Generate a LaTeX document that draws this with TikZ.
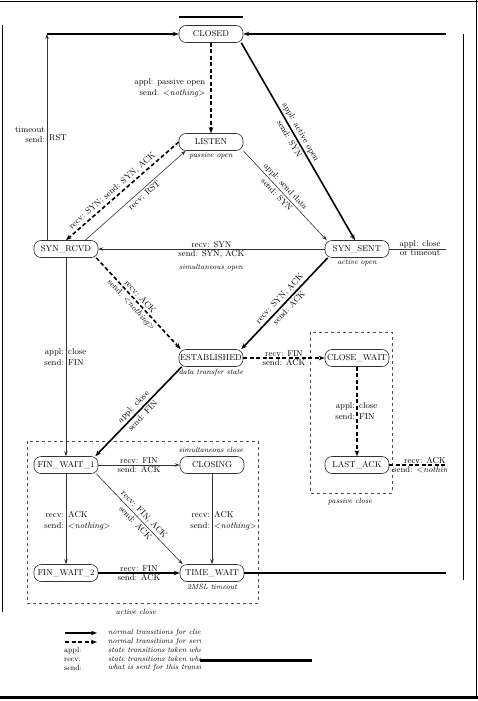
\documentclass[tikz,border=0pt]{standalone}
\usetikzlibrary{arrows.meta}
\newcommand\nthg{\textless\textit{nothing}\textgreater}
\begin{document}
\begin{tikzpicture}[x=1pt,y=-1pt,
  st/.style={draw=black!80, line width=0.6pt, rounded corners=7pt, minimum width=64pt, minimum height=17pt, inner sep=1pt, font=\fontsize{8.5}{10}\selectfont},
  cli/.style={line width=1.6pt, -{Stealth[length=6pt,width=4.5pt]}},
  srv/.style={line width=1.6pt, dash pattern=on 4pt off 2.5pt, -{Stealth[length=6pt,width=4.5pt]}},
  tr/.style={line width=0.6pt, draw=black!80, -{Stealth[length=5pt,width=3.5pt]}},
  lab/.style={font=\fontsize{8.5}{10.5}\selectfont, inner sep=1pt},
  slab/.style={font=\fontsize{8.5}{10.5}\selectfont, inner sep=2pt, sloped},
  note/.style={font=\fontsize{7.5}{9}\selectfont\itshape, inner sep=1pt},
  dbox/.style={draw=black!70, line width=0.6pt, dash pattern=on 3pt off 3pt},
  frame/.style={line width=1.5pt},
]
\useasboundingbox (0,0) rectangle (478,701);
% frame
\draw[frame] (0,1.5) -- (478,1.5);
\draw[frame] (476.5,0) -- (476.5,698);
\draw[line width=3pt] (0,697.5) -- (478,697.5);
\draw[line width=1.2pt] (2.5,25) -- (2.5,612);
\draw[line width=0.9pt] (463,34) -- (463,580);
\draw[line width=2pt] (179,17) -- (243,17);

% states
\node[st] (closed) at (211,34) {CLOSED};
\node[st] (listen) at (211,142) {LISTEN};
\node[st] (synrcvd) at (66,249) {SYN\_RCVD};
\node[st] (synsent) at (357,249) {SYN\_SENT};
\node[st] (estab) at (211,358) {ESTABLISHED};
\node[st] (closewait) at (357,358) {CLOSE\_WAIT};
\node[st] (lastack) at (357,465) {LAST\_ACK};
\node[st] (fw1) at (66,465) {FIN\_WAIT\_1};
\node[st] (closing) at (212,465) {CLOSING};
\node[st] (fw2) at (66,573) {FIN\_WAIT\_2};
\node[st] (tw) at (212,573) {TIME\_WAIT};

\coordinate (tl) at (47,34);
\coordinate (trc) at (446,34);
\coordinate (sse) at (446,249);
\coordinate (lae) at (446,465);
\coordinate (twe) at (446,573);

% notes under states
\node[note, below=1pt] at (listen.south) {passive open};
\node[note, below=1pt] at (synsent.south) {active open};
\node[note, below=1pt] at (estab.south) {data transfer state};
\node[note, below=1pt] at (tw.south) {2MSL timeout};

% boxes
\draw[dbox] (27,441) rectangle (258,603);
\draw[dbox] (310,332) rectangle (392,493);
\node[note] at (136,612) {active close};
\node[note] at (350,502) {passive close};
\node[note] at (211,450) {simultaneous close};

% CLOSED region
\draw[tr] (synrcvd.north -| tl) -- (tl);
\node[lab, anchor=east, align=right] at (46,135) {timeout\\send:};
\node[lab, anchor=west, align=left] at (48,135) {\mbox{}\\RST};
\draw[cli] (tl) -- (closed.west);
\draw[cli] (trc) -- (closed.east);
\draw[srv] (closed) -- node[lab, left=4pt, align=right] {appl: passive open\\send: \nthg} (listen);
\draw[cli] ([xshift=-2pt]closed.south east) --
  node[slab, above, pos=.47] {appl: active open}
  node[slab, below, pos=.47] {send: SYN} ([xshift=-2pt]synsent.north);

% LISTEN
\draw[tr] (listen.south east) --
  node[slab, above, pos=.45] {appl: send data}
  node[slab, below, pos=.45] {send: SYN} ([xshift=2pt]synsent.north west);
\draw[srv] (listen.west) --
  node[slab, above, pos=.55] {recv: SYN; send: SYN, ACK} (synrcvd.north);
\draw[tr] ([xshift=-13pt]synrcvd.north east) --
  node[slab, below, pos=.55] {recv: RST} ([xshift=7pt]listen.south west);

% SYN_SENT -> SYN_RCVD
\draw[tr] (synsent) -- node[lab, above] {recv: SYN} node[lab, below] {send: SYN, ACK} (synrcvd);
\node[note] at (211,268) {simultaneous open};
\draw[line width=0.6pt, draw=black!80] (synsent.east) -- (sse);
\begin{scope}
\clip (389,225) rectangle (446,480);
\node[lab, above] at (420,249) {appl: close};
\node[lab, below] at (420,249) {or timeout};
\node[lab, anchor=south] at (425,465) {recv: ACK};
\node[lab, anchor=north west] at (392,465) {send: \nthg};
\end{scope}

% to ESTABLISHED
\draw[srv] ([xshift=-2pt]synrcvd.south east) --
  node[slab, above, pos=.47] {recv: ACK}
  node[slab, below, pos=.47] {send: \nthg} ([xshift=2pt]estab.north west);
\draw[cli] ([xshift=3pt]synsent.south west) --
  node[slab, above, pos=.5] {recv: SYN, ACK}
  node[slab, below, pos=.5] {send: ACK} ([xshift=-2pt]estab.north east);

% passive close
\draw[srv] (estab) -- node[lab, above] {recv: FIN} node[lab, below] {send: ACK} (closewait);
\draw[srv] (closewait) -- (lastack);
\node[lab, anchor=east, align=right] at (356,411) {appl:\\send:};
\node[lab, anchor=west, align=left] at (358,411) {close\\FIN};
\draw[srv, -] (lastack) -- (lae);

% active close
\draw[cli] ([xshift=3pt]estab.south west) --
  node[slab, above, pos=.5] {appl: close}
  node[slab, below, pos=.5] {send: FIN} ([xshift=-3pt]fw1.north east);
\draw[tr] (synrcvd) -- (fw1);
\node[lab, anchor=east, align=right] at (65,357) {appl:\\send:};
\node[lab, anchor=west, align=left] at (67,357) {close\\FIN};

\draw[tr] (fw1) -- node[lab, above] {recv: FIN} node[lab, below] {send: ACK} (closing);
\draw[tr] (fw1) -- (fw2);
\node[lab, anchor=east, align=right] at (65,521) {recv:\\send:};
\node[lab, anchor=west, align=left] at (67,521) {ACK\\\nthg};
\draw[tr] ([xshift=-2pt]fw1.south east) --
  node[slab, above, pos=.5] {recv: FIN, ACK}
  node[slab, below, pos=.5] {send: ACK} ([xshift=3pt]tw.north west);
\draw[tr] (closing) -- (tw);
\node[lab, anchor=east, align=right] at (211,521) {recv:\\send:};
\node[lab, anchor=west, align=left] at (213,521) {ACK\\\nthg};
\draw[cli] (fw2) -- node[lab, above] {recv: FIN} node[lab, below] {send: ACK} (tw);
\draw[line width=1.6pt] (tw) -- (twe);

% legend
\coordinate (l1a) at (65,633); \coordinate (l1b) at (97,633);
\coordinate (l2a) at (65,642); \coordinate (l2b) at (97,642);
\draw[cli] (l1a) -- (l1b);
\draw[srv] (l2a) -- (l2b);
\node[lab, anchor=west, font=\fontsize{7.5}{9}\selectfont] at (63,651) {appl:};
\node[lab, anchor=west, font=\fontsize{7.5}{9}\selectfont] at (63,659.5) {recv:};
\node[lab, anchor=west, font=\fontsize{7.5}{9}\selectfont] at (63,668) {send:};
\begin{scope}
\clip (100,620) rectangle (200,680);
\node[note, anchor=west] at (107,633) {normal transitions for client};
\node[note, anchor=west] at (107,642) {normal transitions for server};
\node[note, anchor=west] at (107,651) {state transitions taken when application issues operation};
\node[note, anchor=west] at (107,659.5) {state transitions taken when segment received};
\node[note, anchor=west] at (107,668) {what is sent for this transition};
\end{scope}
\draw[line width=3pt] (200,660) -- (312,660);
\end{tikzpicture}
\end{document}
